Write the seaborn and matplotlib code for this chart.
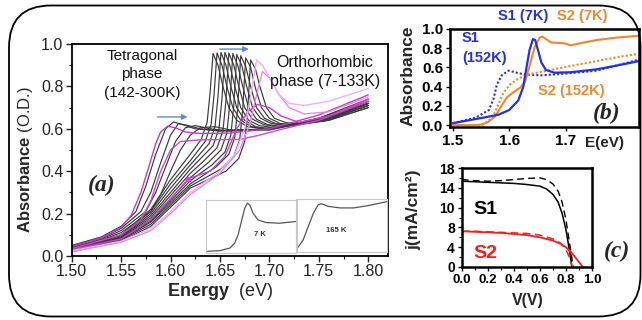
import matplotlib
matplotlib.use("Agg")
import matplotlib.pyplot as plt
from matplotlib.patches import FancyBboxPatch
from matplotlib.ticker import MultipleLocator, FixedLocator
import seaborn as sns

# ---------------- (a) temperature-dependent absorbance ----------------
# orthorhombic-phase spectra (7-133 K), black
ortho_energy = [
    [1.50, 1.55, 1.58, 1.60, 1.62, 1.631, 1.637, 1.640, 1.643, 1.648, 1.653, 1.659, 1.667, 1.678, 1.693, 1.76, 1.80],
    [1.50, 1.55, 1.58, 1.60, 1.62, 1.635, 1.641, 1.644, 1.647, 1.652, 1.657, 1.663, 1.671, 1.682, 1.697, 1.76, 1.80],
    [1.50, 1.55, 1.58, 1.60, 1.62, 1.639, 1.645, 1.648, 1.651, 1.656, 1.661, 1.667, 1.675, 1.686, 1.701, 1.76, 1.80],
    [1.50, 1.55, 1.58, 1.60, 1.62, 1.643, 1.649, 1.652, 1.655, 1.660, 1.665, 1.671, 1.679, 1.690, 1.705, 1.76, 1.80],
    [1.50, 1.55, 1.58, 1.60, 1.62, 1.634, 1.647, 1.653, 1.656, 1.659, 1.664, 1.669, 1.675, 1.683, 1.694, 1.709, 1.76, 1.80],
    [1.50, 1.55, 1.58, 1.60, 1.62, 1.638, 1.651, 1.657, 1.660, 1.663, 1.668, 1.673, 1.679, 1.687, 1.698, 1.713, 1.76, 1.80],
    [1.50, 1.55, 1.58, 1.60, 1.62, 1.642, 1.655, 1.661, 1.664, 1.667, 1.672, 1.677, 1.683, 1.691, 1.702, 1.717, 1.76, 1.80],
    [1.50, 1.55, 1.58, 1.60, 1.62, 1.646, 1.659, 1.665, 1.668, 1.671, 1.676, 1.681, 1.687, 1.695, 1.706, 1.721, 1.76, 1.80],
    [1.50, 1.55, 1.58, 1.60, 1.62, 1.651, 1.664, 1.670, 1.673, 1.676, 1.681, 1.686, 1.692, 1.700, 1.711, 1.726, 1.76, 1.80],
    [1.50, 1.55, 1.58, 1.60, 1.62, 1.656, 1.669, 1.675, 1.678, 1.681, 1.686, 1.691, 1.697, 1.705, 1.716, 1.731, 1.76, 1.80],
]
ortho_abs = [
    [0.040, 0.100, 0.220, 0.360, 0.480, 0.550, 0.630, 0.770, 0.955, 0.900, 0.800, 0.700, 0.640, 0.610, 0.600, 0.650, 0.720],
    [0.035, 0.095, 0.210, 0.340, 0.450, 0.540, 0.620, 0.760, 0.958, 0.900, 0.800, 0.700, 0.640, 0.610, 0.600, 0.655, 0.730],
    [0.035, 0.090, 0.200, 0.320, 0.430, 0.530, 0.610, 0.750, 0.960, 0.900, 0.800, 0.700, 0.640, 0.610, 0.600, 0.650, 0.720],
    [0.030, 0.088, 0.190, 0.300, 0.410, 0.520, 0.600, 0.740, 0.960, 0.900, 0.800, 0.700, 0.640, 0.615, 0.605, 0.645, 0.710],
    [0.030, 0.085, 0.180, 0.285, 0.390, 0.450, 0.510, 0.590, 0.730, 0.958, 0.900, 0.800, 0.700, 0.645, 0.620, 0.610, 0.650, 0.720],
    [0.030, 0.082, 0.170, 0.270, 0.370, 0.440, 0.500, 0.580, 0.720, 0.955, 0.900, 0.800, 0.700, 0.645, 0.620, 0.610, 0.645, 0.710],
    [0.025, 0.080, 0.165, 0.260, 0.355, 0.430, 0.490, 0.570, 0.710, 0.950, 0.900, 0.800, 0.700, 0.650, 0.625, 0.615, 0.650, 0.720],
    [0.025, 0.078, 0.160, 0.250, 0.340, 0.420, 0.480, 0.560, 0.700, 0.945, 0.895, 0.800, 0.700, 0.650, 0.625, 0.615, 0.640, 0.700],
    [0.025, 0.075, 0.150, 0.240, 0.330, 0.410, 0.470, 0.550, 0.690, 0.935, 0.890, 0.790, 0.700, 0.650, 0.625, 0.620, 0.645, 0.710],
    [0.020, 0.070, 0.140, 0.230, 0.320, 0.400, 0.460, 0.540, 0.680, 0.925, 0.880, 0.790, 0.700, 0.650, 0.630, 0.620, 0.640, 0.700],
]

# tetragonal-phase spectra (142-300 K), black
tetra_energy = [
    [1.50, 1.53, 1.55, 1.565, 1.575, 1.585, 1.595, 1.603, 1.612, 1.625, 1.65, 1.70, 1.75, 1.80],
    [1.50, 1.53, 1.55, 1.57, 1.58, 1.59, 1.60, 1.608, 1.618, 1.63, 1.65, 1.70, 1.75, 1.80],
    [1.50, 1.53, 1.55, 1.575, 1.585, 1.595, 1.605, 1.615, 1.625, 1.64, 1.66, 1.70, 1.75, 1.80],
    [1.50, 1.53, 1.55, 1.58, 1.59, 1.60, 1.61, 1.62, 1.63, 1.645, 1.66, 1.70, 1.75, 1.80],
]
tetra_abs = [
    [0.050, 0.090, 0.140, 0.210, 0.330, 0.480, 0.600, 0.632, 0.620, 0.600, 0.590, 0.600, 0.650, 0.740],
    [0.045, 0.085, 0.130, 0.210, 0.300, 0.440, 0.570, 0.625, 0.615, 0.600, 0.590, 0.595, 0.650, 0.730],
    [0.040, 0.080, 0.120, 0.210, 0.300, 0.420, 0.540, 0.605, 0.615, 0.600, 0.590, 0.600, 0.645, 0.720],
    [0.040, 0.075, 0.110, 0.210, 0.290, 0.400, 0.500, 0.570, 0.605, 0.610, 0.595, 0.595, 0.640, 0.720],
]

# highlighted spectra near the phase transition (pink / magenta)
pink_energy = [
    [1.50, 1.53, 1.55, 1.56, 1.57, 1.578, 1.585, 1.59, 1.597, 1.605, 1.615, 1.63, 1.66, 1.70, 1.75, 1.80],
    [1.50, 1.55, 1.57, 1.58, 1.59, 1.60, 1.61, 1.63, 1.67, 1.69, 1.71, 1.75, 1.80],
    [1.50, 1.55, 1.58, 1.60, 1.618, 1.64, 1.655, 1.667, 1.678, 1.688, 1.70, 1.712, 1.73, 1.76, 1.80],
    [1.50, 1.55, 1.58, 1.60, 1.62, 1.65, 1.67, 1.68, 1.687, 1.693, 1.70, 1.71, 1.72, 1.735, 1.76, 1.80],
    [1.50, 1.55, 1.58, 1.60, 1.62, 1.65, 1.665, 1.675, 1.681, 1.687, 1.693, 1.70, 1.71, 1.72, 1.735, 1.76, 1.80],
]
pink_abs = [
    [0.045, 0.085, 0.135, 0.190, 0.300, 0.420, 0.530, 0.585, 0.612, 0.605, 0.585, 0.578, 0.580, 0.600, 0.665, 0.760],
    [0.035, 0.100, 0.170, 0.260, 0.400, 0.500, 0.540, 0.548, 0.550, 0.570, 0.595, 0.640, 0.730],
    [0.030, 0.080, 0.170, 0.270, 0.365, 0.400, 0.470, 0.600, 0.680, 0.715, 0.700, 0.660, 0.630, 0.660, 0.740],
    [0.020, 0.065, 0.120, 0.200, 0.290, 0.390, 0.500, 0.620, 0.760, 0.870, 0.840, 0.760, 0.700, 0.670, 0.680, 0.750],
    [0.025, 0.070, 0.130, 0.210, 0.300, 0.400, 0.480, 0.600, 0.750, 0.925, 0.900, 0.840, 0.760, 0.720, 0.710, 0.730, 0.790],
]
pink_colors = ["#c93ac9", "#d048d0", "#cc40cc", "#e889e8", "#f3aef3"]

marker_point = (1.618, 0.365)

# inset spectra
inset7_energy = [1.50, 1.546, 1.58, 1.596, 1.607, 1.618, 1.629, 1.638, 1.646, 1.657, 1.673, 1.70, 1.745, 1.80]
inset7_abs = [0.03, 0.044, 0.094, 0.19, 0.344, 0.594, 0.844, 0.94, 0.906, 0.75, 0.625, 0.575, 0.5625, 0.594]
inset165_energy = [1.503, 1.522, 1.539, 1.556, 1.572, 1.583, 1.605, 1.644, 1.689, 1.734, 1.80]
inset165_abs = [0.063, 0.22, 0.475, 0.73, 0.89, 0.91, 0.86, 0.83, 0.83, 0.87, 0.95]

# ---------------- (b) S1 / S2 absorbance ----------------
s1_7k_E = [1.50, 1.552, 1.581, 1.60, 1.616, 1.625, 1.630, 1.636, 1.642, 1.646, 1.651, 1.657, 1.665, 1.68, 1.709, 1.755, 1.80, 1.829]
s1_7k_A = [0.02, 0.075, 0.108, 0.157, 0.256, 0.40, 0.58, 0.78, 0.895, 0.885, 0.78, 0.65, 0.574, 0.545, 0.55, 0.58, 0.63, 0.665]
s1_152k_E = [1.50, 1.54, 1.564, 1.572, 1.578, 1.587, 1.599, 1.61, 1.628, 1.657, 1.697, 1.755, 1.829]
s1_152k_A = [0.02, 0.075, 0.157, 0.27, 0.42, 0.52, 0.567, 0.55, 0.525, 0.518, 0.534, 0.567, 0.68]
s2_7k_E = [1.50, 1.546, 1.561, 1.575, 1.587, 1.596, 1.607, 1.619, 1.628, 1.636, 1.645, 1.654, 1.659, 1.674, 1.697, 1.709, 1.726, 1.755, 1.79, 1.829]
s2_7k_A = [0.0, 0.0, 0.026, 0.09, 0.207, 0.29, 0.34, 0.387, 0.45, 0.616, 0.81, 0.91, 0.92, 0.86, 0.852, 0.83, 0.852, 0.885, 0.91, 0.93]
s2_152k_E = [1.50, 1.552, 1.57, 1.581, 1.59, 1.601, 1.616, 1.639, 1.668, 1.709, 1.755, 1.80, 1.829]
s2_152k_A = [0.0, 0.0, 0.075, 0.22, 0.338, 0.42, 0.485, 0.534, 0.567, 0.616, 0.666, 0.715, 0.74]

# ---------------- (c) J-V curves ----------------
s1_V = [0, 0.1, 0.2, 0.3, 0.4, 0.5, 0.6, 0.65, 0.7, 0.74, 0.77, 0.8, 0.82, 0.835, 0.845]
s1_J = [15.6, 15.5, 15.4, 15.3, 15.2, 15.0, 14.7, 14.2, 13.2, 11.8, 9.8, 6.8, 4.0, 1.8, 0]
s1d_V = [0, 0.1, 0.2, 0.3, 0.4, 0.5, 0.6, 0.65, 0.7, 0.74, 0.77, 0.8, 0.82, 0.84, 0.855]
s1d_J = [15.9, 15.7, 15.6, 15.7, 15.9, 16.1, 16.2, 15.9, 15.1, 13.8, 11.8, 8.6, 5.5, 2.5, 0]
s2_V = [0, 0.1, 0.2, 0.3, 0.4, 0.5, 0.6, 0.7, 0.76, 0.8, 0.84, 0.87, 0.9, 0.93]
s2_J = [6.5, 6.4, 6.3, 6.2, 6.0, 5.8, 5.4, 4.8, 4.2, 3.6, 2.7, 1.8, 0.9, 0]
s2d_V = [0, 0.1, 0.2, 0.3, 0.4, 0.5, 0.6, 0.7, 0.76, 0.8, 0.83, 0.85]
s2d_J = [6.5, 6.5, 6.4, 6.3, 6.2, 6.1, 5.8, 5.1, 4.3, 3.2, 1.6, 0]
jv_tick_pos = [0, 3.6, 7.2, 10.8, 14.4, 18]
jv_tick_labels = ["0", "4", "8", "10", "14", "18"]

BLUE = "#2330e8"
ORANGE = "#f5862a"
ARROW = "#5b8cc8"

sns.set_theme(style="ticks")
plt.rcParams["font.family"] = ["Liberation Sans", "DejaVu Sans"]
plt.rcParams["mathtext.fontset"] = "custom"
plt.rcParams["mathtext.rm"] = "Liberation Sans"
plt.rcParams["mathtext.bf"] = "Liberation Sans:bold"
plt.rcParams["mathtext.it"] = "Liberation Sans:italic"
plt.rcParams["axes.edgecolor"] = "black"
plt.rcParams["xtick.color"] = "black"
plt.rcParams["ytick.color"] = "black"

fig = plt.figure(figsize=(6.42, 3.2), dpi=100)
W, H = 642.0, 320.0


def fig_rect(x0, y0, x1, y1):
    return [x0 / W, 1 - y1 / H, (x1 - x0) / W, (y1 - y0) / H]


def line(ax, x, y, **kw):
    sns.lineplot(x=x, y=y, ax=ax, sort=False, estimator=None, legend=False, **kw)


# rounded outline around the whole figure
frame = FancyBboxPatch((0.09, 0.035), 6.315, 3.11,
                       boxstyle="round,pad=0,rounding_size=0.42",
                       transform=fig.dpi_scale_trans, fill=False,
                       ec="black", lw=1.3)
fig.add_artist(frame)

# ---------------- panel (a) ----------------
axa = fig.add_axes(fig_rect(71.7, 44, 388, 256))
for e, a in zip(tetra_energy, tetra_abs):
    line(axa, e, a, color="#3a3a3a", lw=0.85)
for e, a in zip(ortho_energy, ortho_abs):
    line(axa, e, a, color="#3a3a3a", lw=0.85)
for e, a, c in zip(pink_energy, pink_abs, pink_colors):
    line(axa, e, a, color=c, lw=1.0)
axa.plot([marker_point[0]], [marker_point[1]], "s", color="#e040e0", ms=3.5)

axa.set_xlim(1.50, 1.82)
axa.set_ylim(0, 1.0)
axa.set_xticks([1.50, 1.55, 1.60, 1.65, 1.70, 1.75, 1.80])
axa.set_xticklabels(["1.50", "1.55", "1.60", "1.65", "1.70", "1.75", "1.80"])
axa.set_yticks([0.0, 0.2, 0.4, 0.6, 0.8, 1.0])
axa.set_yticklabels(["0.0", "0.2", "0.4", "0.6", "0.8", "1.0"])
axa.xaxis.set_minor_locator(MultipleLocator(0.025))
axa.yaxis.set_minor_locator(MultipleLocator(0.1))
axa.tick_params(which="major", direction="out", length=4, width=1, labelsize=11.5, pad=2, colors="#222222")
axa.tick_params(which="minor", direction="out", length=2.5, width=0.8)
for s in axa.spines.values():
    s.set_linewidth(1.3)
    s.set_color("black")
axa.set_xlabel("")
axa.set_ylabel("")

axa.text(1.571, 0.858, "Tetragonal\nphase\n(142-300K)", ha="center", va="center",
         fontsize=11, linespacing=1.4, color="#111111")
axa.text(1.756, 0.868, "Orthorhombic\nphase (7-133K)", ha="center", va="center",
         fontsize=11.5, linespacing=1.3, color="#111111")
axa.text(1.5303, 0.332, "(a)", ha="center", va="center", fontsize=17,
         family="Liberation Serif", style="italic", weight="bold")
axa.annotate("", xy=(1.62, 0.656), xytext=(1.584, 0.656),
             arrowprops=dict(arrowstyle="-|>", color=ARROW, lw=1.0, mutation_scale=8))
axa.annotate("", xy=(1.682, 0.976), xytext=(1.647, 0.976),
             arrowprops=dict(arrowstyle="-|>", color=ARROW, lw=1.0, mutation_scale=8))

fig.text(26 / W, 1 - 160 / H, r"$\mathbf{Absorbance}$ (O.D.)", rotation=90,
         ha="center", va="center", fontsize=12)
fig.text(220 / W, 1 - 292 / H, r"$\mathbf{Energy}$  (eV)", ha="center", va="center", fontsize=13)

# insets with single spectra
for rect, e, a, label, lpos in [
    ((206, 200, 296, 253), inset7_energy, inset7_abs, "7 K", (0.6, 0.34)),
    ((296.5, 199, 387, 251.5), inset165_energy, inset165_abs, "165 K", (0.44, 0.40)),
]:
    axi = fig.add_axes(fig_rect(*rect))
    axi.set_facecolor("white")
    line(axi, e, a, color="#555555", lw=0.9)
    axi.set_xlim(1.50, 1.80)
    axi.set_ylim(0, 1.0)
    axi.set_xticks([])
    axi.set_yticks([])
    axi.set_xlabel("")
    axi.set_ylabel("")
    for s in axi.spines.values():
        s.set_color("#c8c8c8")
        s.set_linewidth(0.8)
    axi.text(lpos[0], lpos[1], label, transform=axi.transAxes, ha="center", va="center",
             fontsize=5.5, weight="bold", color="#333333")

# ---------------- panel (b) ----------------
axb = fig.add_axes(fig_rect(450, 29, 639, 127))
line(axb, s1_152k_E, s1_152k_A, color=BLUE, lw=1.5, linestyle=(0, (1, 1)))
line(axb, s2_152k_E, s2_152k_A, color=ORANGE, lw=1.5, linestyle=(0, (1, 1)))
line(axb, s2_7k_E, s2_7k_A, color=ORANGE, lw=1.5)
line(axb, s1_7k_E, s1_7k_A, color=BLUE, lw=1.6)
axb.set_xlim(1.495, 1.83)
axb.set_ylim(-0.02, 1.0)
axb.set_xticks([1.5, 1.6, 1.7])
axb.set_xticklabels(["1.5", "1.6", "1.7"])
axb.set_yticks([0.0, 0.2, 0.4, 0.6, 0.8, 1.0])
axb.set_yticklabels(["0.0", "0.2", "0.4", "0.6", "0.8", "1.0"])
axb.tick_params(direction="out", length=3, width=1, labelsize=11, pad=2)
for lbl in axb.get_xticklabels() + axb.get_yticklabels():
    lbl.set_fontweight("bold")
for s in axb.spines.values():
    s.set_linewidth(1.8)
    s.set_color("black")
axb.set_xlabel("")
axb.set_ylabel("")
axb.text(0.829, 0.143, "(b)", transform=axb.transAxes, ha="center", va="center",
         fontsize=17, family="Liberation Serif", style="italic", weight="bold")
fig.text(605 / W, 1 - 143 / H, "E(eV)", ha="center", va="center", fontsize=11, weight="bold")
fig.text(408 / W, 1 - 76 / H, "Absorbance", rotation=90, ha="center", va="center",
         fontsize=12.5, weight="bold")
fig.text(523 / W, 1 - 16 / H, "S1 (7K)", ha="center", va="center", fontsize=10.5,
         weight="bold", color=BLUE)
fig.text(582.5 / W, 1 - 16 / H, "S2 (7K)", ha="center", va="center", fontsize=10.5,
         weight="bold", color=ORANGE)
fig.text(462 / W, 1 - 48 / H, "S1\n(152K)", ha="left", va="center", fontsize=10.5,
         weight="bold", color=BLUE, linespacing=1.5)
fig.text(571 / W, 1 - 91 / H, "S2 (152K)", ha="center", va="center", fontsize=10.5,
         weight="bold", color=ORANGE)

# ---------------- panel (c) ----------------
axc = fig.add_axes(fig_rect(461.7, 168, 592, 267))
line(axc, s1_V, s1_J, color="black", lw=1.1)
line(axc, s1d_V, s1d_J, color="black", lw=1.0, linestyle=(0, (5, 3)))
line(axc, s2_V, s2_J, color="#ff1a1a", lw=1.3)
line(axc, s2d_V, s2d_J, color="#ff1a1a", lw=1.1, linestyle=(0, (5, 3)))
axc.set_xlim(0, 1.0)
axc.set_ylim(0, 18)
axc.set_xticks([0.0, 0.2, 0.4, 0.6, 0.8, 1.0])
axc.set_xticklabels(["0.0", "0.2", "0.4", "0.6", "0.8", "1.0"])
axc.yaxis.set_major_locator(FixedLocator(jv_tick_pos))
axc.set_yticklabels(jv_tick_labels)
axc.xaxis.set_minor_locator(MultipleLocator(0.1))
axc.yaxis.set_minor_locator(MultipleLocator(1.8))
axc.tick_params(which="major", direction="out", length=3, width=1, pad=2)
axc.tick_params(which="minor", direction="out", length=2, width=0.8)
axc.tick_params(axis="x", labelsize=9.5)
axc.tick_params(axis="y", labelsize=10)
for lbl in axc.get_xticklabels() + axc.get_yticklabels():
    lbl.set_fontweight("bold")
for s in axc.spines.values():
    s.set_linewidth(1.8)
    s.set_color("black")
axc.set_xlabel("")
axc.set_ylabel("")
axc.text(0.179, 0.576, "S1", transform=axc.transAxes, ha="center", va="center",
         fontsize=14, weight="bold", color="black")
axc.text(0.179, 0.141, "S2", transform=axc.transAxes, ha="center", va="center",
         fontsize=14, weight="bold", color="#ff1a1a")
fig.text(617 / W, 1 - 251 / H, "(c)", ha="center", va="center", fontsize=17,
         family="Liberation Serif", style="italic", weight="bold")
fig.text(528 / W, 1 - 300 / H, "V(V)", ha="center", va="center", fontsize=11.5, weight="bold")
fig.text(414 / W, 1 - 210 / H, "j(mA/cm²)", rotation=90, ha="center", va="center",
         fontsize=12.5, weight="bold")

fig.savefig("out.png", dpi=100)
